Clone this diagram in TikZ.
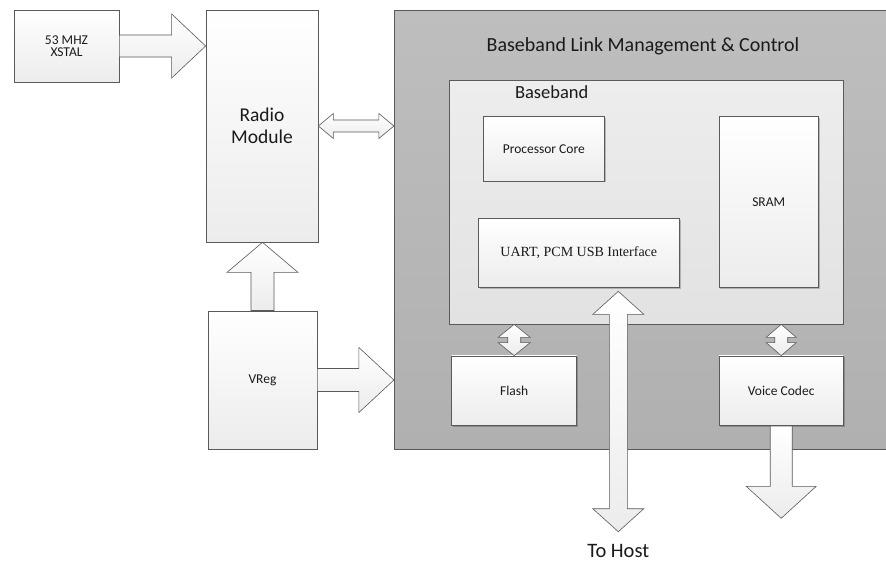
\documentclass[tikz,border=0pt]{standalone}
\usepackage{fontspec}
\setmainfont{Carlito}
\newfontfamily\tnrfont{Liberation Serif}
\usetikzlibrary{calc,shadows}
\definecolor{edge}{HTML}{5A5A5A}
\definecolor{ink}{HTML}{1A1A1A}
\definecolor{graytop}{HTML}{BEBEBE}
\definecolor{graybot}{HTML}{B0B0B0}
\definecolor{innertop}{HTML}{EDEDED}
\definecolor{innerbot}{HTML}{E2E2E2}
\definecolor{boxbot}{HTML}{ECECEC}
\tikzset{
  boxbase/.style={draw=edge, line width=0.7pt, inner sep=0pt, align=center, text=ink,
    top color=white, bottom color=boxbot,
    drop shadow={shadow xshift=1.2pt, shadow yshift=-1.2pt, fill=black, opacity=0.22}},
  smalltext/.style={font=\fontsize{13.5}{12.5}\selectfont},
  blockarrow/.style={draw=edge, line width=0.6pt, top color=white, bottom color=boxbot},
}
% horizontal single arrow: tail centre, tip, shaft half, head half, head length
\newcommand\harrowR[5]{\draw[blockarrow] let \p1=(#1), \p2=(#2) in
  (\x1,\y1+#3) -- (\x2-#5,\y1+#3) -- (\x2-#5,\y1+#4) -- (\x2,\y1) -- (\x2-#5,\y1-#4)
  -- (\x2-#5,\y1-#3) -- (\x1,\y1-#3) -- cycle;}
% horizontal double arrow: left tip, right tip, shaft half, head half, head length
\newcommand\hdarrow[5]{\draw[blockarrow] let \p1=(#1), \p2=(#2) in
  (\x1,\y1) -- (\x1+#5,\y1+#4) -- (\x1+#5,\y1+#3) -- (\x2-#5,\y1+#3) -- (\x2-#5,\y1+#4)
  -- (\x2,\y1) -- (\x2-#5,\y1-#4) -- (\x2-#5,\y1-#3) -- (\x1+#5,\y1-#3) -- (\x1+#5,\y1-#4) -- cycle;}
% vertical single arrow pointing up: tail centre, tip
\newcommand\varrowU[5]{\draw[blockarrow] let \p1=(#1), \p2=(#2) in
  (\x1-#3,\y1) -- (\x1-#3,\y2-#5) -- (\x1-#4,\y2-#5) -- (\x1,\y2) -- (\x1+#4,\y2-#5)
  -- (\x1+#3,\y2-#5) -- (\x1+#3,\y1) -- cycle;}
% vertical single arrow pointing down: tail centre, tip
\newcommand\varrowD[5]{\draw[blockarrow] let \p1=(#1), \p2=(#2) in
  (\x1-#3,\y1) -- (\x1-#3,\y2+#5) -- (\x1-#4,\y2+#5) -- (\x1,\y2) -- (\x1+#4,\y2+#5)
  -- (\x1+#3,\y2+#5) -- (\x1+#3,\y1) -- cycle;}
% vertical double arrow: top tip, bottom tip
\newcommand\vdarrow[5]{\draw[blockarrow] let \p1=(#1), \p2=(#2) in
  (\x1,\y1) -- (\x1+#4,\y1-#5) -- (\x1+#3,\y1-#5) -- (\x1+#3,\y2+#5) -- (\x1+#4,\y2+#5)
  -- (\x1,\y2) -- (\x1-#4,\y2+#5) -- (\x1-#3,\y2+#5) -- (\x1-#3,\y1-#5) -- (\x1-#4,\y1-#5) -- cycle;}
\begin{document}
\begin{tikzpicture}[x=1pt,y=-1pt]
\useasboundingbox[fill=white] (0,0) rectangle (886,562);
% outer block
\node[draw=edge, line width=0.7pt, top color=graytop, bottom color=graybot,
      minimum width=492.5pt, minimum height=439pt, inner sep=0pt] (bblm) at (640.5,229.5) {};
\node[text=ink, font=\fontsize{20}{22}\selectfont] (title) at (643,46) {Baseband Link Management \& Control};
% inner block
\node[draw=edge, line width=0.7pt, top color=innertop, bottom color=innerbot,
      minimum width=394pt, minimum height=244pt, inner sep=0pt] (inner) at (646.3,202) {};
\node[text=ink, font=\fontsize{18.5}{20}\selectfont] (bblabel) at (551.7,92.3) {Baseband};
% boxes
\node[boxbase, smalltext, minimum width=105pt, minimum height=72pt] (xstal) at (66.5,46) {53 MHZ\\XSTAL};
\node[boxbase, font=\fontsize{19.5}{21.5}\selectfont, minimum width=112pt, minimum height=232pt] (radio) at (262,126) {Radio\\Module};
\node[boxbase, smalltext, minimum width=109pt, minimum height=138.3pt] (vreg) at (262.5,380) {VReg};
\node[boxbase, smalltext, minimum width=121pt, minimum height=64.3pt] (proc) at (543.8,148.8) {Processor Core};
\node[boxbase, smalltext, minimum width=99.3pt, minimum height=171pt] (sram) at (768.7,202.2) {SRAM};
\node[boxbase, font=\tnrfont\fontsize{14}{16}\selectfont, minimum width=201pt, minimum height=69.4pt] (uart) at (578.8,253) {UART, PCM USB Interface};
\node[boxbase, smalltext, minimum width=125pt, minimum height=69.7pt] (flash) at (514.2,390.8) {Flash};
\node[boxbase, smalltext, minimum width=124.3pt, minimum height=69.7pt] (voice) at (781.2,390.8) {Voice Codec};
\node[text=ink, font=\fontsize{20.5}{22}\selectfont] (tohost) at (618.3,551) {To Host};
% connector end points
\coordinate (hosttop) at ($(uart.south)+(39.5,3.3)$);
\coordinate (hostbot) at (618.3,531.7);
\coordinate (voicetip) at (781.2,518.3);
% connectors
\harrowR{xstal.east}{radio.west |- xstal.east}{11pt}{32pt}{34pt}
\hdarrow{radio.east}{bblm.west |- radio.east}{6pt}{12.5pt}{15pt}
\varrowU{vreg.north}{radio.south}{11.5pt}{35.5pt}{30pt}
\harrowR{vreg.east}{bblm.west |- vreg.east}{11.5pt}{32.5pt}{35pt}
\vdarrow{inner.south -| flash.north}{flash.north}{6.5pt}{16pt}{13pt}
\vdarrow{inner.south -| voice.north}{voice.north}{6.5pt}{15pt}{13pt}
\vdarrow{hosttop}{hostbot}{9pt}{25.5pt}{23pt}
\varrowD{voice.south}{voicetip}{11pt}{35pt}{32pt}
\end{tikzpicture}
\end{document}
